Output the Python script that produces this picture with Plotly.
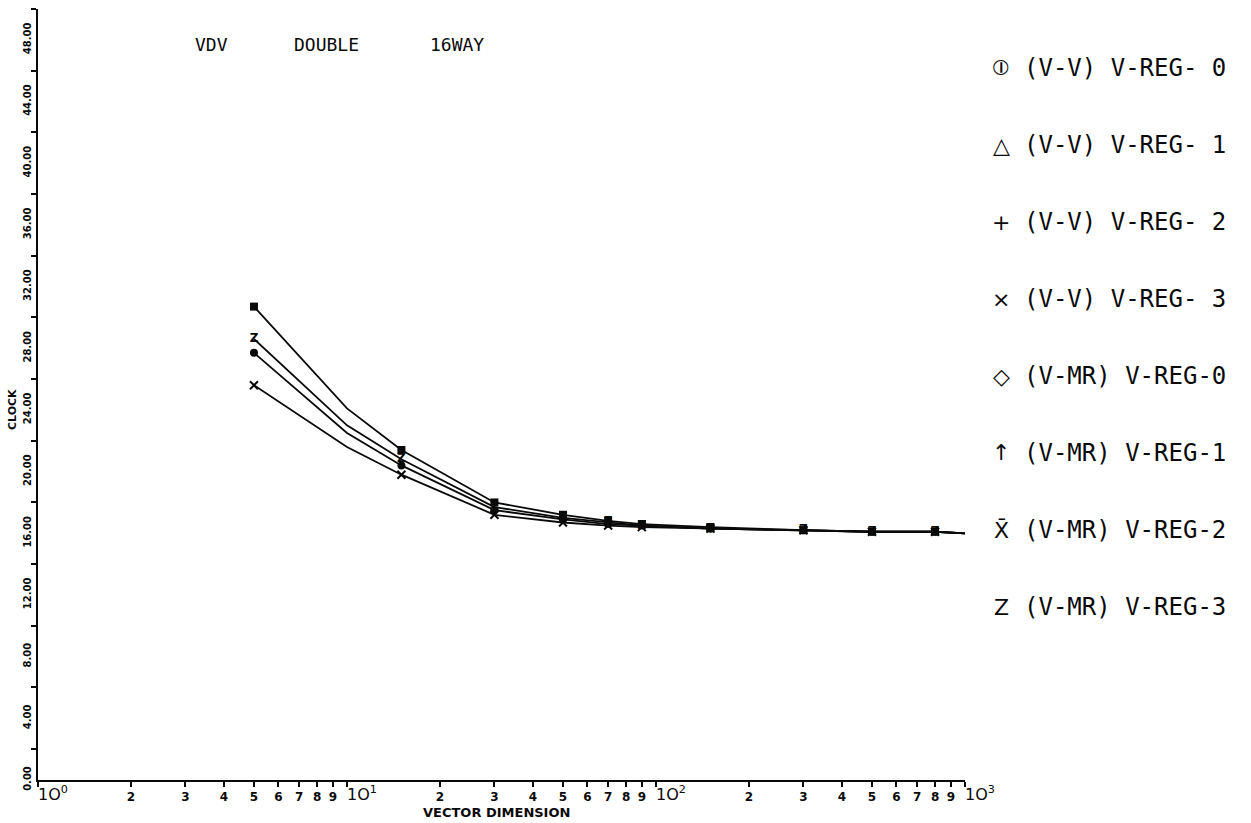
import plotly.graph_objects as go

# Vector dimension (log scale) and clock counts per series
vector_dim = [5, 10, 15, 30, 50, 70, 90, 150, 300, 500, 800, 1000]
marked = [True, False, True, True, True, True, True, True, True, True, True, False]

clock_top = [30.7, 24.1, 21.4, 18.0, 17.2, 16.8, 16.6, 16.4, 16.2, 16.1, 16.1, 16.0]
clock_z = [28.6, 23.0, 20.8, 17.7, 17.0, 16.7, 16.5, 16.3, 16.2, 16.1, 16.1, 16.0]
clock_dot = [27.7, 22.5, 20.4, 17.5, 16.9, 16.6, 16.5, 16.3, 16.2, 16.1, 16.1, 16.0]
clock_x = [25.6, 21.6, 19.8, 17.2, 16.7, 16.5, 16.4, 16.3, 16.2, 16.1, 16.1, 16.0]

legend_symbols = ["⦶", "△", "+", "×", "◇", "↑", "X̄", "Z"]
legend_labels = [
    "(V-V) V-REG- 0",
    "(V-V) V-REG- 1",
    "(V-V) V-REG- 2",
    "(V-V) V-REG- 3",
    "(V-MR) V-REG-0",
    "(V-MR) V-REG-1",
    "(V-MR) V-REG-2",
    "(V-MR) V-REG-3",
]
title_words = ["VDV", "DOUBLE", "16WAY"]

y_tick_vals = [0, 4, 8, 12, 16, 20, 24, 28, 32, 36, 40, 44, 48]
y_tick_text = ["0.00", "4.00", "8.00", "12.00", "16.00", "20.00", "24.00",
               "28.00", "32.00", "36.00", "40.00", "44.00", "48.00"]
x_tick_vals = [m * 10 ** d for d in range(3) for m in range(2, 10)]
x_tick_text = [str(m) for d in range(3) for m in range(2, 10)]
decades = [0, 1, 2, 3]

INK = "#0a0a0a"
FONT = "DejaVu Sans Mono"

fig = go.Figure()


def pick(values):
    """Keep only the points that carry a plotted symbol."""
    return [v for v, f in zip(values, marked) if f]


curves = [
    (clock_top, dict(symbol="square", size=8, color=INK)),
    (clock_z, None),
    (clock_dot, dict(symbol="circle", size=8, color=INK)),
    (clock_x, dict(symbol="x-thin-open", size=8, color=INK,
                   line=dict(color=INK, width=2))),
]

for values, marker in curves:
    fig.add_trace(go.Scatter(
        x=vector_dim, y=values, mode="lines",
        line=dict(color=INK, width=1.8), hoverinfo="skip",
    ))
    if marker is None:
        fig.add_trace(go.Scatter(
            x=pick(vector_dim), y=pick(values), mode="text",
            text=["Z"] * len(pick(values)), textposition="middle center",
            textfont=dict(family="DejaVu Sans", size=12, color=INK, weight="bold"),
        ))
    else:
        fig.add_trace(go.Scatter(
            x=pick(vector_dim), y=pick(values), mode="markers", marker=marker,
        ))

# plot area: left 38, right 965, top 9, bottom 780 (pixels)
L, R, T, B = 38, 965, 9, 780
W, H = 1251, 823


def px(x):
    return (x - L) / (R - L)


def py(y):
    return (B - y) / (B - T)


annotations = []
# title words
for word, xp in zip(title_words, [193, 292, 428]):
    annotations.append(dict(
        x=px(xp), y=py(45), xref="paper", yref="paper", text=word,
        showarrow=False, xanchor="left", yanchor="middle",
        font=dict(family=FONT, size=18, color=INK)))

# key on the right
for i, (sym, lab) in enumerate(zip(legend_symbols, legend_labels)):
    yrow = 68 + i * 77
    annotations.append(dict(
        x=px(1001), y=py(yrow), xref="paper", yref="paper", text=sym,
        showarrow=False, xanchor="center", yanchor="middle",
        font=dict(family="DejaVu Sans", size=22, color=INK)))
    annotations.append(dict(
        x=px(1022), y=py(yrow), xref="paper", yref="paper", text=lab,
        showarrow=False, xanchor="left", yanchor="middle",
        font=dict(family=FONT, size=24, color=INK)))

# decade labels 10^n, starting at the tick
for d in decades:
    annotations.append(dict(
        x=d, y=0, xref="x", yref="paper", text=f"1O<sup>{d}</sup>",
        showarrow=False, xanchor="left", yanchor="top", yshift=-1, xshift=-2,
        font=dict(family="DejaVu Sans", size=16, color=INK)))

# axis titles
annotations.append(dict(
    x=px(496), y=py(812), xref="paper", yref="paper", text="VECTOR DIMENSION",
    showarrow=False, xanchor="center", yanchor="middle",
    font=dict(family="DejaVu Sans", size=13, color=INK, weight="bold")))
annotations.append(dict(
    x=px(13), y=py(410), xref="paper", yref="paper", text="CLOCK",
    showarrow=False, textangle=-90, xanchor="center", yanchor="middle",
    font=dict(family="DejaVu Sans", size=11, color=INK, weight="bold")))

fig.update_layout(
    width=W, height=H,
    margin=dict(l=L, r=W - R, t=T, b=H - B),
    paper_bgcolor="white", plot_bgcolor="white",
    showlegend=False,
    annotations=annotations,
    xaxis=dict(
        type="log", range=[0, 3],
        showline=True, linecolor=INK, linewidth=2, mirror=False,
        showgrid=False, zeroline=False,
        tickmode="array", tickvals=x_tick_vals, ticktext=x_tick_text,
        ticks="outside", ticklen=5, tickwidth=1.5, tickcolor=INK,
        tickfont=dict(family="DejaVu Sans", size=12, color=INK, weight="bold"),
        minor=dict(tick0=0, dtick=1, ticks="outside", ticklen=5,
                   tickwidth=1.5, tickcolor=INK, showgrid=False),
    ),
    yaxis=dict(
        range=[0, 50],
        showline=True, linecolor=INK, linewidth=2,
        showgrid=False, zeroline=False,
        tickmode="array", tickvals=y_tick_vals, ticktext=y_tick_text,
        ticks="", tickangle=-90, ticklabelstandoff=1,
        tickfont=dict(family="DejaVu Sans", size=10, color=INK, weight="bold"),
        minor=dict(tick0=2, dtick=4, ticks="outside", ticklen=5,
                   tickwidth=1.5, tickcolor=INK, showgrid=False),
    ),
)

fig.write_html("out.html")
